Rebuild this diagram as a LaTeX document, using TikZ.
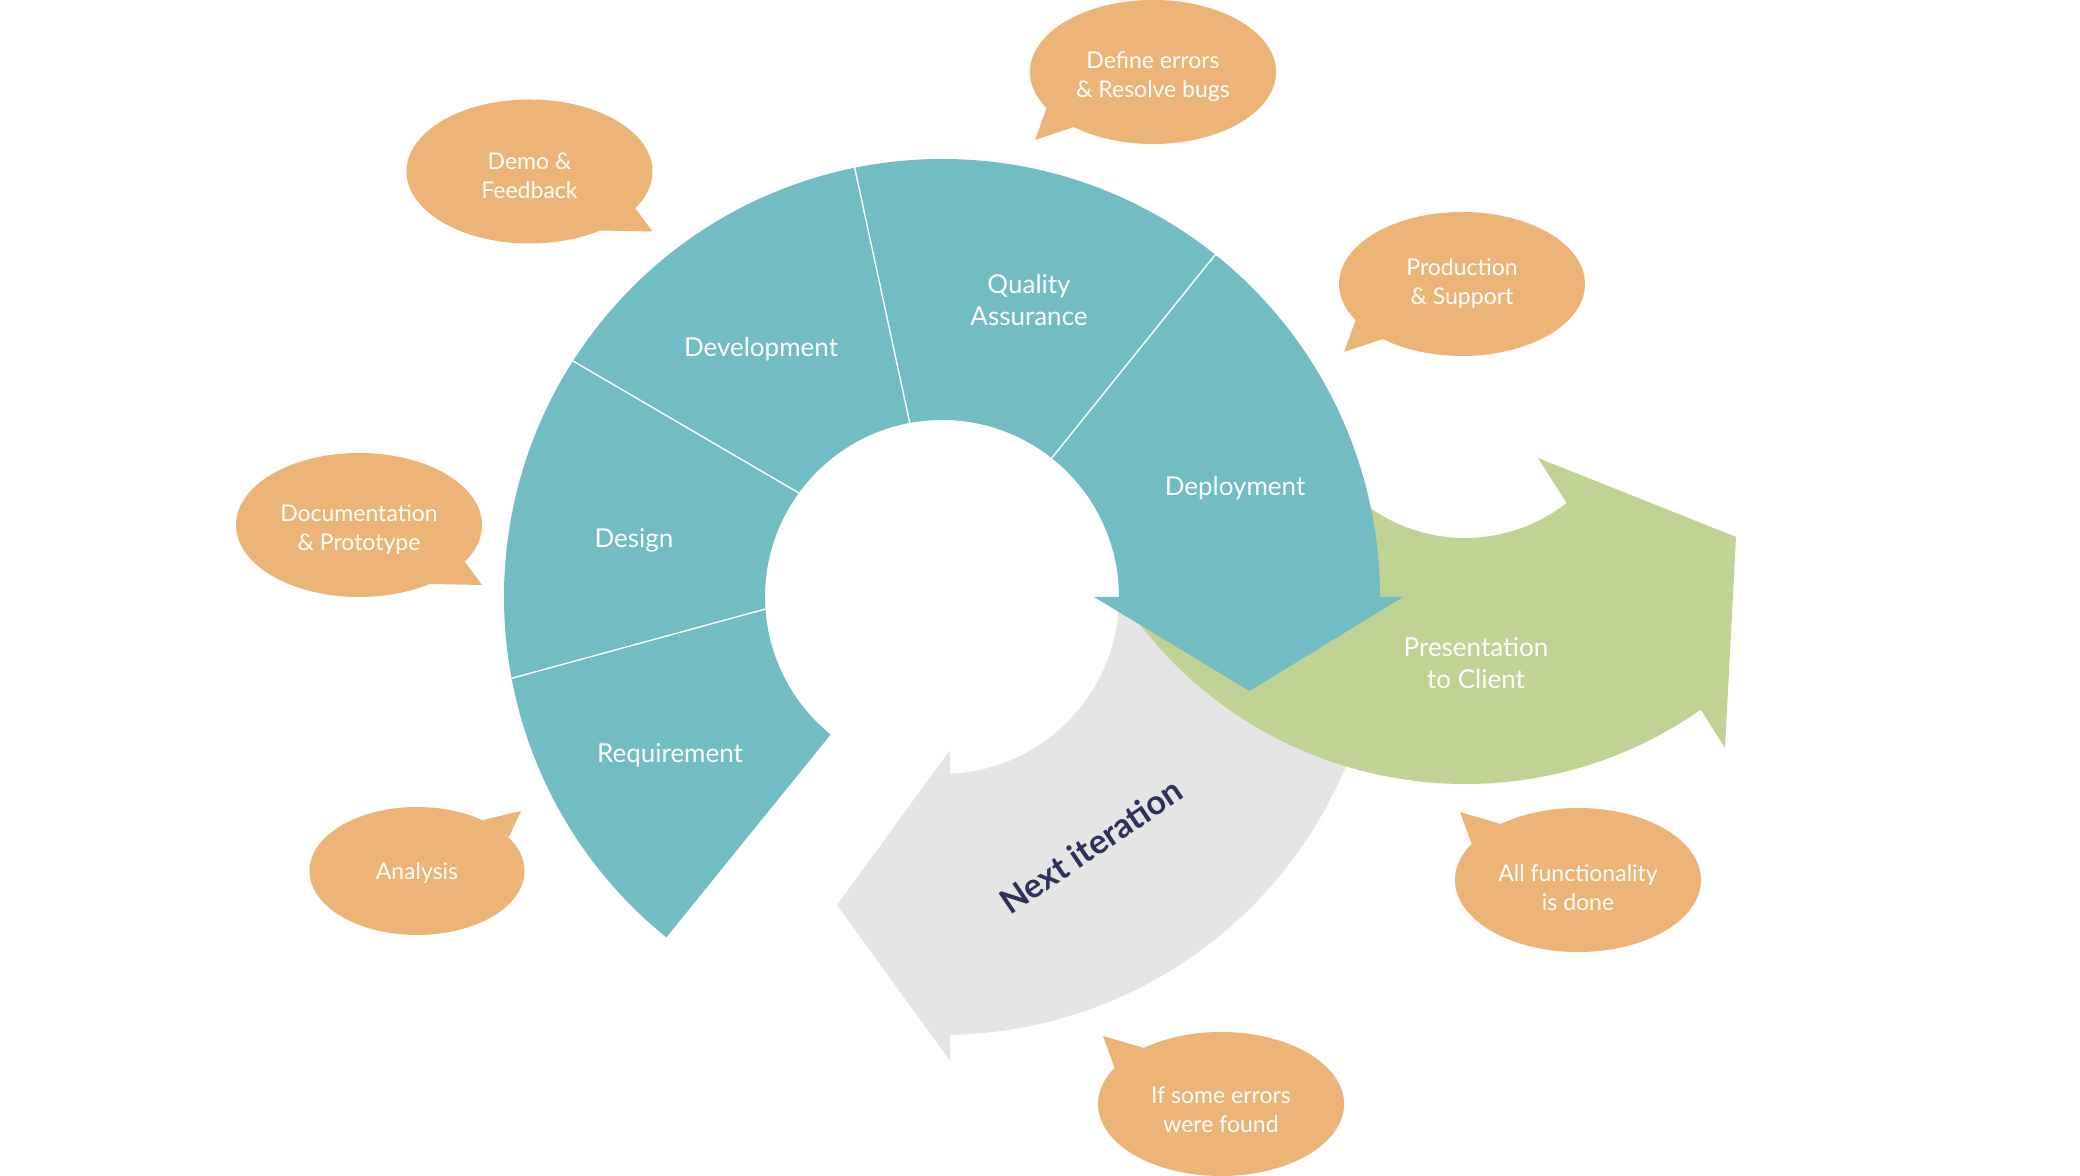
\documentclass[tikz,border=0pt]{standalone}
\usepackage{fontspec}
\setmainfont{Lato}
\usetikzlibrary{shapes.geometric,calc}

\definecolor{stageteal}{RGB}{114,188,195}
\definecolor{presgreen}{RGB}{192,211,148}
\definecolor{loopgray}{RGB}{229,229,229}
\definecolor{bubbleorange}{RGB}{236,180,119}
\definecolor{loopnavy}{RGB}{45,50,90}

\begin{document}
\begin{tikzpicture}[
    x=0.5pt, y=0.5pt,
    stage/.style={text=white, align=center, font=\fontsize{13}{16}\selectfont},
    bubble/.style={ellipse, fill=bubbleorange, minimum width=123pt, minimum height=72pt, inner sep=0pt},
    note/.style={text=white, align=center, font=\fontsize{11.5}{14.5}\selectfont},
    tail/.style={fill=bubbleorange}
]
    \useasboundingbox (0,0) rectangle (2080,1176);
    \coordinate (c) at (942,579);
    \coordinate (g) at (1465,803);

    % Next iteration band
    \fill[loopgray] ($(c)+(2:177)$) -- ($(c)+(2:438)$) arc[start angle=2, end angle=-88.95, radius=438]
        -- (950,115) -- (837,271) -- (950,426) -- ($(c)+(-87.4:177)$) arc[start angle=-87.4, end angle=2, radius=177] -- cycle;

    % Presentation band
    \fill[presgreen] ($(g)+(216:165)$) -- ($(g)+(216:411)$) arc[start angle=216, end angle=305, radius=411]
        -- (1725,428) -- (1736,639) -- (1538,718) -- ($(g)+(308:165)$) arc[start angle=308, end angle=216, radius=165] -- cycle;

    % Stage ring
    \fill[stageteal] ($(c)+(231:438)$) arc[start angle=231, end angle=0, radius=438]
        -- ++(23,0) -- (1249.5,485) -- (1094,579) -- ++(25,0) arc[start angle=0, end angle=231, radius=177] -- cycle;
    \foreach \a/\b in {190.7/183.9, 147.4/144, 101.5/100.5, 51.4/51.7}
        \draw[white, line width=0.7pt] ($(c)+(\a:438)$) -- ($(c)+(\b:177)$);

    % Stage labels
    \node[stage] (req) at (670,421) {Requirement};
    \node[stage] (design) at (634,636) {Design};
    \node[stage] (dev) at (761,827) {Development};
    \node[stage] (qa) at (1029,876) {Quality\\Assurance};
    \node[stage] (deploy) at (1235,688) {Deployment};
    \node[stage] (present) at (1476,513) {Presentation\\to Client};
    \node[text=loopnavy, rotate=34, font=\fontsize{17}{19}\selectfont\bfseries] (next) at (1091,330) {Next iteration};

    % Speech bubbles
    \node[bubble] (demo) at (529.5,1004.5) {};
    \fill[tail] ($(demo)+(106,-37)$) -- ($(demo)+(123,-60)$) -- ($(demo)+(71,-59)$) -- cycle;
    \node[note] (demotext) at (529.5,1000) {Demo \&\\Feedback};
    \node[bubble] (docs) at (359,651) {};
    \fill[tail] ($(docs)+(106,-37)$) -- ($(docs)+(123,-60)$) -- ($(docs)+(71,-59)$) -- cycle;
    \node[note] (docstext) at (359,646) {Documentation\\\& Prototype};
    \node[bubble, minimum width=107.5pt, minimum height=64pt] (analysis) at (417,305) {};
    \fill[tail] ($(analysis)+(66,51)$) -- ($(analysis)+(104,60)$) -- ($(analysis)+(92,34)$) -- cycle;
    \node[note] (analysistext) at (417,303) {Analysis};
    \node[bubble] (bugs) at (1153,1104) {};
    \fill[tail] ($(bugs)+(-106,-35)$) -- ($(bugs)+(-118,-68)$) -- ($(bugs)+(-79,-55)$) -- cycle;
    \node[note] (bugstext) at (1153,1099) {Define errors\\\& Resolve bugs};
    \node[bubble] (support) at (1462,892) {};
    \fill[tail] ($(support)+(-106,-35)$) -- ($(support)+(-118,-68)$) -- ($(support)+(-79,-55)$) -- cycle;
    \node[note] (supporttext) at (1462,892) {Production\\\& Support};
    \node[bubble] (done) at (1578,296) {};
    \fill[tail] ($(done)+(-106,35)$) -- ($(done)+(-118,68)$) -- ($(done)+(-77,56)$) -- cycle;
    \node[note] (donetext) at (1578,288) {All functionality\\is done};
    \node[bubble] (errors) at (1221,72) {};
    \fill[tail] ($(errors)+(-106,35)$) -- ($(errors)+(-118,68)$) -- ($(errors)+(-77,56)$) -- cycle;
    \node[note] (errorstext) at (1221,66) {If some errors\\were found};
\end{tikzpicture}
\end{document}
